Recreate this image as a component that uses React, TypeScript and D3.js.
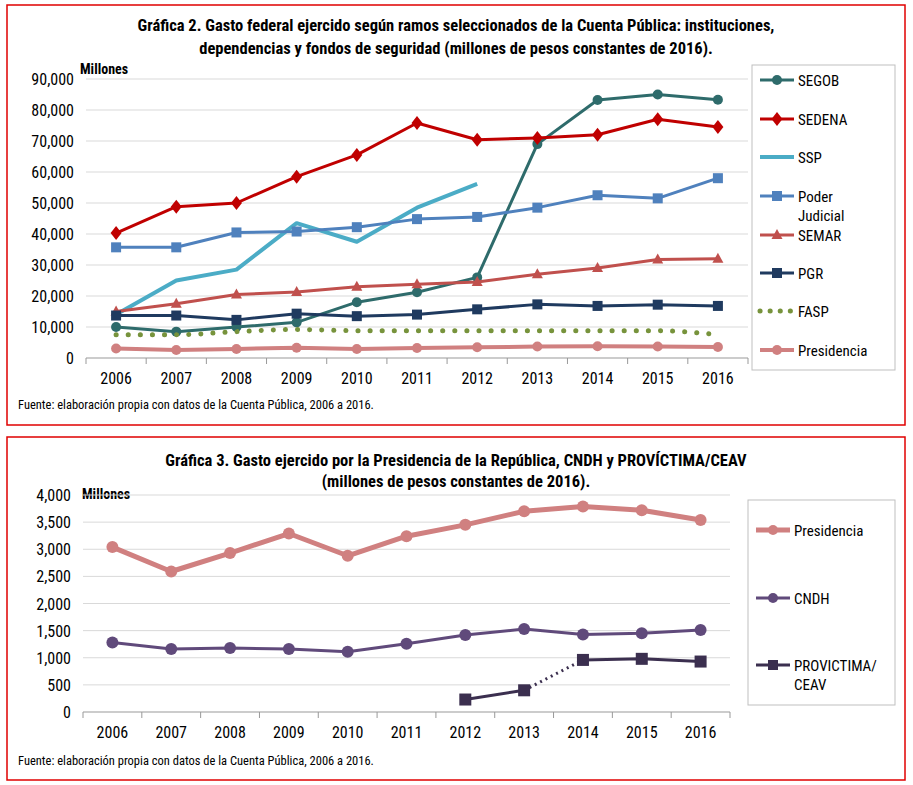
import React from "react";
import * as d3 from "d3";

const years = ["2006","2007","2008","2009","2010","2011","2012","2013","2014","2015","2016"];
const segob = [10000,8500,10000,11500,18000,21200,26000,69000,83200,85000,83300];
const sedena = [40300,48800,50000,58500,65500,75800,70400,71000,72000,77000,74500];
const ssp = [14000,25000,28500,43500,37500,48500,56200,null,null,null,null];
const poder = [35700,35700,40500,40800,42200,44800,45500,48500,52500,51500,58000];
const semar = [15000,17500,20500,21300,23000,23800,24500,27000,29000,31800,32000];
const pgr = [13700,13700,12300,14300,13500,14000,15700,17300,16800,17200,16800];
const fasp = [7500,7500,8500,9200,8800,8800,8800,8800,8800,8800,7500];
const presTop = [3040,2590,2930,3290,2880,3240,3450,3700,3790,3720,3540];
const topTicks = [0,10000,20000,30000,40000,50000,60000,70000,80000,90000];

const presB = [3040,2590,2930,3290,2880,3240,3450,3700,3790,3720,3540];
const cndh = [1280,1160,1180,1160,1110,1260,1420,1530,1430,1450,1510];
const provi = [null,null,null,null,null,null,230,400,960,980,930];
const botTicks = [0,500,1000,1500,2000,2500,3000,3500,4000];

const FONT = "'Liberation Sans Narrow','Roboto Condensed','DejaVu Sans Condensed',Arial,sans-serif";
const fmt = d3.format(",");

type S = { name: string; vals: (number|null)[]; color: string; w: number; marker: string; dotted?: boolean; label?: string[] };

function Marker({ t, x, y, c, s }: { t: string; x: number; y: number; c: string; s: number }) {
  if (t === "circle") return <circle cx={x} cy={y} r={s} fill={c} />;
  if (t === "square") return <rect x={x - s} y={y - s} width={2 * s} height={2 * s} fill={c} />;
  if (t === "diamond") return <path d={`M${x},${y - s * 1.4}L${x + s * 1.1},${y}L${x},${y + s * 1.4}L${x - s * 1.1},${y}Z`} fill={c} />;
  if (t === "triangle") return <path d={`M${x},${y - s * 1.2}L${x + s * 1.1},${y + s * 0.8}L${x - s * 1.1},${y + s * 0.8}Z`} fill={c} />;
  return null;
}

function Panel({ series, ticks, max, left, right, top, bottom, msize, dottedSeg }: any) {
  const x = d3.scaleBand().domain(years).range([left, right]);
  const y = d3.scaleLinear().domain([0, max]).range([bottom, top]);
  const cx = (i: number) => (x(years[i]) as number) + x.bandwidth() / 2;
  return (
    <g>
      {ticks.map((t: number) => (
        <g key={t}>
          {t > 0 && <line x1={left} x2={right} y1={y(t)} y2={y(t)} stroke="#d9d9d9" strokeWidth={1} />}
          <text x={left - 12} y={y(t) + 6} textAnchor="end" fontSize={16} fontFamily={FONT}>{fmt(t)}</text>
        </g>
      ))}
      <line x1={left} x2={right} y1={bottom} y2={bottom} stroke="#999" />
      {years.map((yr, i) => (
        <g key={yr}>
          <line x1={x(yr) as number} x2={x(yr) as number} y1={bottom} y2={bottom + 6} stroke="#999" />
          <text x={cx(i)} y={bottom + 26} textAnchor="middle" fontSize={16} fontFamily={FONT}>{yr}</text>
        </g>
      ))}
      <line x1={right} x2={right} y1={bottom} y2={bottom + 6} stroke="#999" />
      {series.map((s: S) => {
        const line = d3.line<number | null>().defined(v => v != null).x((_, i) => cx(i)).y(v => y(v as number));
        return (
          <g key={s.name}>
            {s.dotted ? (
              <path d={d3.line<number>().x((_, i) => cx(i)).y(v => y(v)).curve(d3.curveMonotoneX)(s.vals as number[]) || ""} fill="none" stroke={s.color} strokeWidth={s.w} strokeDasharray="0.1 12" strokeLinecap="round" />
            ) : (
              <path d={line(s.vals) || ""} fill="none" stroke={s.color} strokeWidth={s.w} strokeLinejoin="round" />
            )}
            {s.marker !== "none" && s.vals.map((v, i) => v != null && <Marker key={i} t={s.marker} x={cx(i)} y={y(v)} c={s.color} s={msize} />)}
          </g>
        );
      })}
      {dottedSeg && (
        <line x1={cx(dottedSeg.i0)} y1={y(dottedSeg.v0)} x2={cx(dottedSeg.i1)} y2={y(dottedSeg.v1)} stroke={dottedSeg.color} strokeWidth={3} strokeDasharray="2 4" />
      )}
    </g>
  );
}

function Legend({ items, x, y0, w, h, msize }: any) {
  return (
    <g>
      <rect x={x} y={y0} width={w} height={h} fill="white" stroke="#bfbfbf" />
      {items.map((s: S & { ly: number }) => (
        <g key={s.name}>
          {s.dotted ? (
            <line x1={x + 8} x2={x + 42} y1={s.ly} y2={s.ly} stroke={s.color} strokeWidth={s.w} strokeDasharray="0.1 10" strokeLinecap="round" />
          ) : (
            <line x1={x + 8} x2={x + 42} y1={s.ly} y2={s.ly} stroke={s.color} strokeWidth={s.w} />
          )}
          {s.marker !== "none" && <Marker t={s.marker} x={x + 25} y={s.ly} c={s.color} s={msize} />}
          {(s.label || [s.name]).map((l, k) => (
            <text key={k} x={x + 46} y={s.ly + 6 + k * 19} fontSize={15} fontFamily={FONT}>{l}</text>
          ))}
        </g>
      ))}
    </g>
  );
}

export default function App() {
  const topSeries: any[] = [
    { name: "SEGOB", vals: segob, color: "#2E6B6B", w: 3, marker: "circle", ly: 80 },
    { name: "SEDENA", vals: sedena, color: "#C00000", w: 3, marker: "diamond", ly: 119 },
    { name: "SSP", vals: ssp, color: "#4BACC6", w: 4, marker: "none", ly: 157 },
    { name: "Poder Judicial", label: ["Poder", "Judicial"], vals: poder, color: "#4F81BD", w: 3, marker: "square", ly: 196 },
    { name: "SEMAR", vals: semar, color: "#C0504D", w: 3, marker: "triangle", ly: 235 },
    { name: "PGR", vals: pgr, color: "#1F3A5F", w: 3, marker: "square", ly: 273 },
    { name: "FASP", vals: fasp, color: "#77933C", w: 5, marker: "none", dotted: true, ly: 311 },
    { name: "Presidencia", vals: presTop, color: "#D08080", w: 4, marker: "circle", ly: 350 },
  ];
  const botSeries: any[] = [
    { name: "Presidencia", vals: presB, color: "#D08080", w: 5, marker: "circle", ly: 530 },
    { name: "CNDH", vals: cndh, color: "#604A7B", w: 3, marker: "circle", ly: 598 },
    { name: "PROVICTIMA", label: ["PROVICTIMA/", "CEAV"], vals: provi, color: "#3B2F4F", w: 3, marker: "square", ly: 665 },
  ];
  const proviA = { ...botSeries[2], vals: provi.map((v, i) => (i <= 7 ? v : null)) };
  const proviB = { ...botSeries[2], name: "PV2", vals: provi.map((v, i) => (i >= 8 ? v : null)) };
  return (
    <svg width={913} height={785} style={{ position: "absolute", left: 0, top: 0, background: "white" }}>
      <rect x={7} y={5} width={898} height={420} fill="white" stroke="#E00000" strokeWidth={1.5} />
      <text x={456} y={31} textAnchor="middle" fontSize={16.5} fontWeight="bold" fontFamily={FONT}>Gráfica 2. Gasto federal ejercido según ramos seleccionados de la Cuenta Pública: instituciones,</text>
      <text x={456} y={54} textAnchor="middle" fontSize={16.5} fontWeight="bold" fontFamily={FONT}>dependencias  y fondos de seguridad (millones de pesos constantes de 2016).</text>
      <text x={80} y={74} fontSize={14} fontWeight="bold" fontFamily={FONT}>Millones</text>
      <Panel series={topSeries} ticks={topTicks} max={90000} left={86} right={748} top={79} bottom={358} msize={5} />
      <Legend items={topSeries} x={752} y0={65} w={143} h={305} msize={5} />
      <text x={18} y={409} fontSize={12.5} fontFamily={FONT}>Fuente: elaboración propia con datos de la Cuenta Pública, 2006 a 2016.</text>

      <rect x={7} y={437} width={898} height={343} fill="white" stroke="#E00000" strokeWidth={1.5} />
      <text x={456} y={466} textAnchor="middle" fontSize={16.5} fontWeight="bold" fontFamily={FONT}>Gráfica 3. Gasto ejercido por la Presidencia de la República, CNDH y PROVÍCTIMA/CEAV</text>
      <text x={456} y={487} textAnchor="middle" fontSize={16.5} fontWeight="bold" fontFamily={FONT}>(millones de pesos constantes de 2016).</text>
      <text x={82} y={499} fontSize={14} fontWeight="bold" fontFamily={FONT}>Millones</text>
      <Panel series={[botSeries[0], botSeries[1], proviA, proviB]} ticks={botTicks} max={4000} left={83} right={730} top={495} bottom={712} msize={6} dottedSeg={{ i0: 7, v0: 400, i1: 8, v1: 960, color: "#3B2F4F" }} />
      <Legend items={botSeries} x={748} y0={500} w={147} h={205} msize={5} />
      <text x={18} y={765} fontSize={12.5} fontFamily={FONT}>Fuente: elaboración propia con datos de la Cuenta Pública, 2006 a 2016.</text>
    </svg>
  );
}
